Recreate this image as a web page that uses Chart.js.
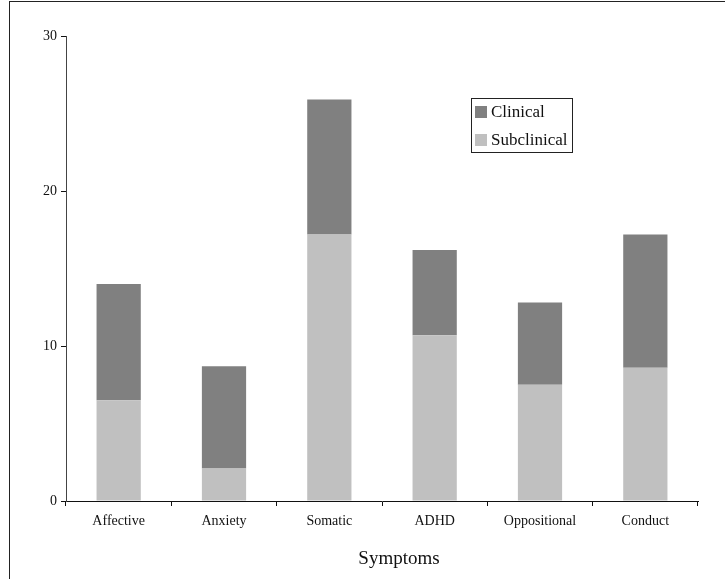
<!DOCTYPE html>
<html lang="en">
<head>
    <meta charset="UTF-8">
    <title>Symptoms - Clinical / Subclinical</title>
    <style>
        body {
            margin: 0;
            padding: 0;
            background-color: #ffffff;
        }
        .frame {
            position: absolute;
            left: 9px;
            top: 1px;
            width: 716px;
            height: 578px;
            border-top: 1px solid #222;
            border-left: 1px solid #222;
        }
        #symptomChart {
            position: absolute;
            left: 0;
            top: 0;
        }
    </style>
    <script src="https://cdn.jsdelivr.net/npm/chart.js"></script>
</head>
<body>
    <div class="frame"></div>
    <canvas id="symptomChart" width="725" height="579"></canvas>

    <script>
        // data
        const categories = ['Affective', 'Anxiety', 'Somatic', 'ADHD', 'Oppositional', 'Conduct'];
        const subclinical = [6.5, 2.1, 17.2, 10.7, 7.5, 8.6];
        const clinical = [7.5, 6.6, 8.7, 5.5, 5.3, 8.6];
        const yTicks = [0, 10, 20, 30];
        const xTitle = 'Symptoms';

        const serif = "'Liberation Serif', 'Times New Roman', serif";

        // boxed legend inside the plot + the axis title (sits a bit right of centre in the original)
        const extras = {
            id: 'extras',
            afterDraw(chart) {
                const ctx = chart.ctx;
                const sets = chart.data.datasets.slice().reverse();
                ctx.save();
                ctx.fillStyle = '#fff';
                ctx.fillRect(471, 98, 101, 54);
                ctx.strokeStyle = '#222';
                ctx.lineWidth = 1;
                ctx.strokeRect(471.5, 98.5, 101, 54);
                ctx.font = '17px ' + serif;
                ctx.textBaseline = 'middle';
                sets.forEach((ds, i) => {
                    const y = 112 + i * 28;
                    ctx.fillStyle = ds.backgroundColor;
                    ctx.fillRect(475, y - 6, 12, 12);
                    ctx.fillStyle = '#111';
                    ctx.fillText(ds.label, 491, y + 1);
                });

                ctx.font = '19px ' + serif;
                ctx.textAlign = 'center';
                ctx.fillStyle = '#111';
                ctx.fillText(xTitle, 399, 559);
                ctx.restore();
            }
        };

        const ctx = document.getElementById('symptomChart').getContext('2d');
        const symptomChart = new Chart(ctx, {
            type: 'bar',
            data: {
                labels: categories,
                datasets: [
                    {
                        label: 'Subclinical',
                        data: subclinical,
                        backgroundColor: '#c0c0c0'
                    },
                    {
                        label: 'Clinical',
                        data: clinical,
                        backgroundColor: '#808080'
                    }
                ]
            },
            options: {
                responsive: false,
                animation: false,
                layout: {
                    padding: { top: 36, right: 27, left: 0, bottom: 0 }
                },
                datasets: {
                    bar: {
                        categoryPercentage: 1,
                        barPercentage: 0.42
                    }
                },
                plugins: {
                    legend: { display: false },
                    tooltip: { enabled: false }
                },
                scales: {
                    x: {
                        stacked: true,
                        afterFit: (scale) => { scale.height = 78; },
                        grid: {
                            drawOnChartArea: false,
                            color: '#111',
                            tickLength: 5
                        },
                        border: { color: '#111', width: 1 },
                        ticks: {
                            color: '#111',
                            padding: 7,
                            font: { family: serif, size: 14 }
                        }
                    },
                    y: {
                        stacked: true,
                        min: 0,
                        max: 30,
                        afterFit: (scale) => { scale.width = 66; },
                        afterBuildTicks: (scale) => {
                            scale.ticks = yTicks.map(v => ({ value: v }));
                        },
                        grid: {
                            drawOnChartArea: false,
                            color: '#111',
                            tickLength: 5
                        },
                        border: { color: '#444', width: 1 },
                        ticks: {
                            color: '#111',
                            padding: 4,
                            font: { family: serif, size: 14 }
                        }
                    }
                }
            },
            plugins: [extras]
        });
    </script>
</body>
</html>
